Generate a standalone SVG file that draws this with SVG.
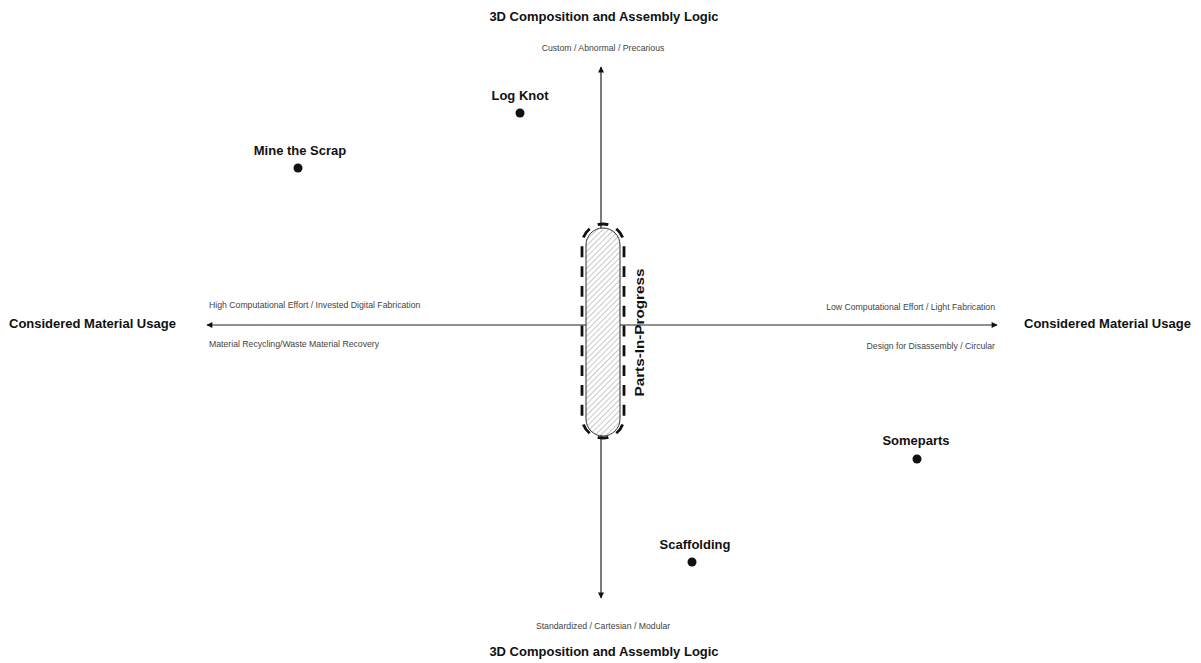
<svg xmlns="http://www.w3.org/2000/svg" width="1201" height="663" viewBox="0 0 1201 663">
<style>
.title{font-family:"Liberation Sans",Arial,sans-serif;font-weight:bold;font-size:13px;fill:#111}
.small{font-family:"Liberation Sans",Arial,sans-serif;font-size:8.7px;fill:#444}
.lbl{font-family:"Liberation Sans",Arial,sans-serif;font-weight:bold;font-size:13px;fill:#111}
.axis{stroke:#222;stroke-width:1.2;fill:none}
.dot{fill:#111}
</style>
<defs>
<marker id="arr" viewBox="0 0 10 10" refX="9" refY="5" markerWidth="11" markerHeight="6" markerUnits="userSpaceOnUse" orient="auto">
<path d="M0,0 L10,5 L0,10 z" fill="#111"/>
</marker>
<pattern id="hatch" patternUnits="userSpaceOnUse" width="4" height="4" patternTransform="rotate(45)">
<rect width="4" height="4" fill="#fff"/>
<line x1="0" y1="0" x2="0" y2="4" stroke="#777" stroke-width="0.8"/>
</pattern>
</defs>
<rect width="1201" height="663" fill="#fff"/>
<g id="connectors">
<line class="axis" x1="601" y1="325" x2="601" y2="67" marker-end="url(#arr)"/>
<line class="axis" x1="601" y1="325" x2="601" y2="598" marker-end="url(#arr)"/>
<line class="axis" x1="601" y1="325" x2="207" y2="325" marker-end="url(#arr)"/>
<line class="axis" x1="601" y1="325" x2="997" y2="325" marker-end="url(#arr)"/>
</g>
<g id="axis-labels">
<text class="title" x="604" y="21" text-anchor="middle">3D Composition and Assembly Logic</text>
<text class="small" x="603" y="51" text-anchor="middle">Custom / Abnormal / Precarious</text>
<text class="small" x="603" y="629" text-anchor="middle">Standardized / Cartesian / Modular</text>
<text class="title" x="604" y="656" text-anchor="middle">3D Composition and Assembly Logic</text>
<text class="title" x="9" y="328">Considered Material Usage</text>
<text class="title" x="1024" y="328">Considered Material Usage</text>
<text class="small" x="209" y="308">High Computational Effort / Invested Digital Fabrication</text>
<text class="small" x="209" y="347">Material Recycling/Waste Material Recovery</text>
<text class="small" x="995" y="310" text-anchor="end">Low Computational Effort / Light Fabrication</text>
<text class="small" x="995" y="349" text-anchor="end">Design for Disassembly / Circular</text>
</g>
<g id="parts-in-progress">
<rect x="586" y="228" width="34" height="208" rx="17" ry="17" fill="url(#hatch)" stroke="#333" stroke-width="1"/>
<path d="M603,224 A21,21 0 0 1 624,245 L624,417 A21,21 0 0 1 603,438 A21,21 0 0 1 582,417 L582,245 A21,21 0 0 1 603,224 Z" pathLength="480" fill="none" stroke="#111" stroke-width="2.8" stroke-dasharray="11 9" stroke-dashoffset="5.5"/>
<text class="lbl" font-size="16" textLength="128" lengthAdjust="spacingAndGlyphs" transform="translate(644,332.5) rotate(-90)" text-anchor="middle">Parts-In-Progress</text>
</g>
<g id="log-knot">
<text class="lbl" x="520" y="100" text-anchor="middle">Log Knot</text>
<circle class="dot" cx="520" cy="113" r="4.5"/>
</g>
<g id="mine-the-scrap">
<text class="lbl" x="300" y="155" text-anchor="middle">Mine the Scrap</text>
<circle class="dot" cx="298" cy="168" r="4.5"/>
</g>
<g id="someparts">
<text class="lbl" x="916" y="445" text-anchor="middle">Someparts</text>
<circle class="dot" cx="917" cy="459" r="4.5"/>
</g>
<g id="scaffolding">
<text class="lbl" x="695" y="549" text-anchor="middle">Scaffolding</text>
<circle class="dot" cx="692" cy="562" r="4.5"/>
</g>
</svg>
